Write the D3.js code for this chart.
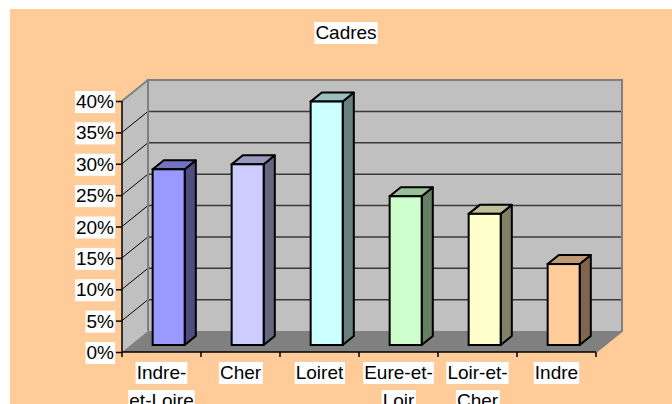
<!DOCTYPE html>
<html>
<head>
<meta charset="utf-8">
<script src="https://cdn.jsdelivr.net/npm/d3@7"></script>
<style>
  body { margin: 0; background: #fff; }
  text { font-family: "Liberation Sans", Arial, sans-serif; font-size: 19px; fill: #000; }
</style>
</head>
<body>
<svg id="chart" width="672" height="404"></svg>
<script>
// data
const categories = ["Indre-et-Loire", "Cher", "Loiret", "Eure-et-Loir", "Loir-et-Cher", "Indre"];
const xLabels = [["Indre-", "et-Loire"], ["Cher"], ["Loiret"], ["Eure-et-", "Loir"], ["Loir-et-", "Cher"], ["Indre"]];
const values = [28.0, 28.8, 38.8, 23.7, 20.9, 12.9];
const yTicks = [0, 5, 10, 15, 20, 25, 30, 35, 40];
const title = "Cadres";

// excel-like palette: front, side, top
const fronts = ["#9999FF", "#CCCCFF", "#CCFFFF", "#CCFFCC", "#FFFFCC", "#FFCC99"];

let svg = d3.select("#chart");
let depth = {x: 26, y: -21};   // full floor depth
let t0 = 0.333, t1 = 0.762;    // bar front / back inside depth
let barOff = 22, barW = 32;

let x = d3.scaleBand().domain(categories).range([122, 596]).padding(0);
let y = d3.scaleLinear().domain([0, 40]).range([352, 101]);

// background
svg.append("rect")
  .attr("x", 10).attr("y", 9).attr("width", 662).attr("height", 395)
  .attr("fill", "#FFCC99");

let x0 = x.range()[0], x1 = x.range()[1];
let pt = function(a, b) { return a + "," + b; };

// side wall
svg.append("polygon")
  .attr("points", [pt(x0, y(0)), pt(x0, y(40)), pt(x0 + depth.x, y(40) + depth.y), pt(x0 + depth.x, y(0) + depth.y)].join(" "))
  .attr("fill", "#C0C0C0");
// back wall
svg.append("polygon")
  .attr("points", [pt(x0 + depth.x, y(40) + depth.y), pt(x1 + depth.x, y(40) + depth.y), pt(x1 + depth.x, y(0) + depth.y), pt(x0 + depth.x, y(0) + depth.y)].join(" "))
  .attr("fill", "#C0C0C0");
// floor
svg.append("polygon")
  .attr("points", [pt(x0, y(0)), pt(x1, y(0)), pt(x1 + depth.x, y(0) + depth.y), pt(x0 + depth.x, y(0) + depth.y)].join(" "))
  .attr("fill", "#808080");

// gridlines back wall
svg.selectAll("line.grid")
  .data(yTicks.filter(function(d) { return d > 0 && d < 40; }))
  .enter().append("line")
    .classed("grid", true)
    .attr("x1", x0 + depth.x).attr("x2", x1 + depth.x)
    .attr("y1", function(d) { return y(d) + depth.y; })
    .attr("y2", function(d) { return y(d) + depth.y; })
    .attr("stroke", "#3a3a3a").attr("stroke-width", 1.5);

// gridlines side wall
svg.selectAll("line.sgrid")
  .data(yTicks.filter(function(d) { return d > 0; }))
  .enter().append("line")
    .classed("sgrid", true)
    .attr("x1", x0).attr("x2", x0 + depth.x)
    .attr("y1", function(d) { return y(d); })
    .attr("y2", function(d) { return y(d) + depth.y; })
    .attr("stroke", function(d) { return d == 40 ? "#808080" : "#000"; })
    .attr("stroke-width", function(d) { return d == 40 ? 2 : 1; });

// wall borders
svg.append("polyline")
  .attr("points", [pt(x0 + depth.x, y(0) + depth.y), pt(x0 + depth.x, y(40) + depth.y), pt(x1 + depth.x, y(40) + depth.y), pt(x1 + depth.x, y(0) + depth.y), pt(x1, y(0))].join(" "))
  .attr("fill", "none").attr("stroke", "#808080").attr("stroke-width", 2);

// bars
let shade = function(c, k) {
  let r = d3.rgb(c);
  return d3.rgb(r.r * k, r.g * k, r.b * k).formatHex();
};
let dx0 = depth.x * t0, dy0 = depth.y * t0;
let bdx = depth.x * (t1 - t0), bdy = depth.y * (t1 - t0);
let bars = svg.selectAll("g.bar")
  .data(categories)
  .enter().append("g").classed("bar", true);

bars.each(function(d, i) {
  let g = d3.select(this);
  let bx = x(d) + barOff + dx0;
  let by0 = y(0) + dy0;
  let byt = y(values[i]) + dy0;
  let col = fronts[i];
  // side
  g.append("polygon")
    .attr("points", [pt(bx + barW, by0), pt(bx + barW, byt), pt(bx + barW + bdx, byt + bdy), pt(bx + barW + bdx, by0 + bdy)].join(" "))
    .attr("fill", shade(col, 0.5)).attr("stroke", "#000").attr("stroke-width", 2).attr("stroke-linejoin", "round");
  // top
  g.append("polygon")
    .attr("points", [pt(bx, byt), pt(bx + barW, byt), pt(bx + barW + bdx, byt + bdy), pt(bx + bdx, byt + bdy)].join(" "))
    .attr("fill", shade(col, 0.75)).attr("stroke", "#000").attr("stroke-width", 2).attr("stroke-linejoin", "round");
  // front
  g.append("rect")
    .attr("x", bx).attr("y", byt).attr("width", barW).attr("height", by0 - byt)
    .attr("fill", col).attr("stroke", "#000").attr("stroke-width", 2);
});

// axes lines
svg.append("line")
  .attr("x1", x0).attr("x2", x0).attr("y1", y(40)).attr("y2", y(0))
  .attr("stroke", "#000").attr("stroke-width", 1.5);
svg.append("line")
  .attr("x1", x0).attr("x2", x1).attr("y1", y(0)).attr("y2", y(0))
  .attr("stroke", "#000").attr("stroke-width", 1.5);

// white-box text helper
function boxText(parent, tx, ty, str, anchor) {
  let g = parent.append("g");
  let r = g.append("rect").attr("fill", "#fff");
  let t = g.append("text").attr("x", tx).attr("y", ty).attr("text-anchor", anchor).text(str);
  let bb = t.node().getBBox();
  r.attr("x", bb.x - 1).attr("y", bb.y).attr("width", bb.width + 2).attr("height", bb.height + 1);
  return g;
}

// y axis
let yAxis = svg.append("g").classed("y_axis", true)
  .attr("transform", "translate(" + x0 + ",0)")
  .call(d3.axisLeft(y).tickValues(yTicks).tickSize(6).tickFormat(""));
yAxis.select(".domain").remove();
yAxis.selectAll(".tick line").attr("stroke", "#000").attr("stroke-width", 1.5);
yTicks.forEach(function(v) {
  boxText(svg, 114, y(v) + 7, v + "%", "end");
});

// x ticks
let xt = categories.map(function(d) { return x(d); }).concat([x1]);
svg.selectAll("line.xtick")
  .data(xt)
  .enter().append("line")
    .classed("xtick", true)
    .attr("x1", function(d) { return d; }).attr("x2", function(d) { return d; })
    .attr("y1", y(0)).attr("y2", y(0) + 5)
    .attr("stroke", "#000").attr("stroke-width", 1.5);

// x labels
categories.forEach(function(d, i) {
  let cx = x(d) + x.bandwidth() / 2;
  xLabels[i].forEach(function(line, j) {
    boxText(svg, cx, 379 + j * 28, line, "middle");
  });
});

// title
boxText(svg, 346, 39, title, "middle");
</script>
</body>
</html>
